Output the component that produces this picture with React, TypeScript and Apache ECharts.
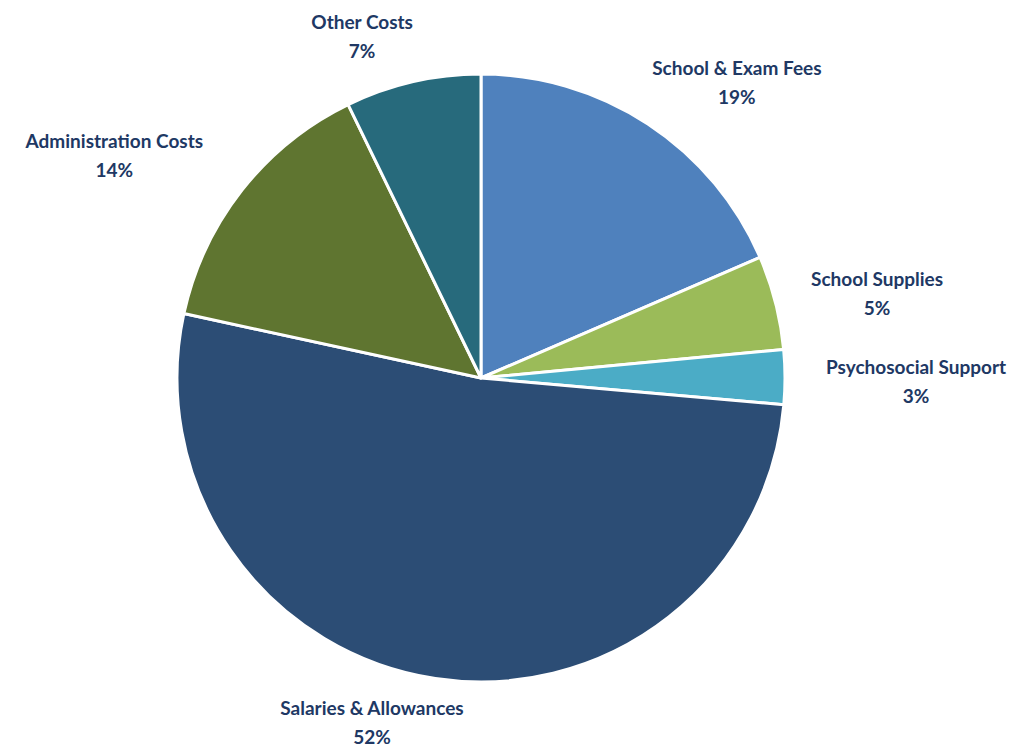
import React, { useEffect, useRef } from "react";
import * as echarts from "echarts";

const categories = [
  "School & Exam Fees",
  "School Supplies",
  "Psychosocial Support",
  "Salaries & Allowances",
  "Administration Costs",
  "Other Costs",
];
const values = [18.5, 5, 2.9, 52, 14.4, 7.2];
const colors = ["#4F81BD", "#9BBB59", "#4BACC6", "#2C4D75", "#5F7530", "#276A7C"];

const CX = 481;
const CY = 378;
const R = 304;
const GAP = 10;
// fine adjustments of label placement (px) to follow the reference layout
const labelNudge: [number, number][] = [
  [37, -9],
  [28, 0],
  [31, 4],
  [-48, 5],
  [-50, -11],
  [-37, -8],
];

export default function App() {
  const ref = useRef<HTMLDivElement>(null);
  useEffect(() => {
    if (!ref.current) return;
    const chart = echarts.init(ref.current, null, { renderer: "svg" });
    const total = values.reduce((a, b) => a + b, 0);
    const mids: number[] = [];
    let cum = 0;
    values.forEach((v) => {
      mids.push(((cum + v / 2) / total) * Math.PI * 2);
      cum += v;
    });
    chart.setOption({
      animation: false,
      backgroundColor: "#ffffff",
      series: [
        {
          type: "pie",
          center: [CX, CY],
          radius: R,
          startAngle: 90,
          clockwise: true,
          avoidLabelOverlap: false,
          data: categories.map((name, i) => ({
            name,
            value: values[i],
            itemStyle: { color: colors[i] },
          })),
          itemStyle: { borderColor: "#ffffff", borderWidth: 3 },
          label: {
            show: true,
            position: "outside",
            formatter: (p: any) => `${p.name}\n${Math.round(p.percent)}%`,
            color: "#203864",
            fontFamily: "Lato",
            fontWeight: "bold",
            fontSize: 19,
            lineHeight: 29,
            align: "center",
          },
          labelLine: { show: false },
          labelLayout: (params: any) => {
            const i = params.dataIndex;
            const a = mids[i];
            const ux = Math.sin(a);
            const uy = -Math.cos(a);
            const w = params.labelRect.width;
            const h = params.labelRect.height;
            return {
              x: CX + ux * (R + GAP) + (ux * w) / 2 + labelNudge[i][0],
              y: CY + uy * (R + GAP) + (uy * h) / 2 + labelNudge[i][1],
              align: "center",
              verticalAlign: "middle",
            };
          },
        },
      ],
    });
    return () => chart.dispose();
  }, []);
  return (
    <div
      ref={ref}
      style={{ position: "fixed", left: 0, top: 0, width: 1031, height: 753 }}
    />
  );
}
